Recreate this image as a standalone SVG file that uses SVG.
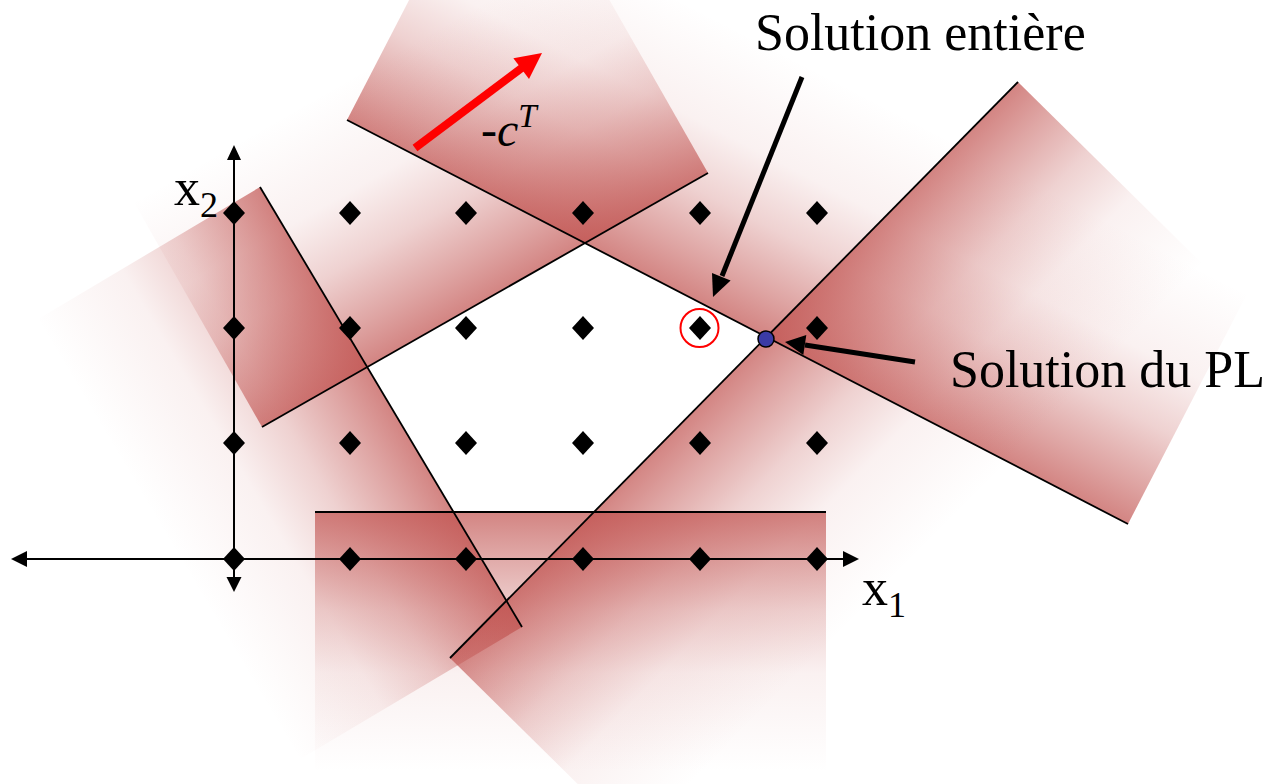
<svg xmlns="http://www.w3.org/2000/svg" xmlns:xlink="http://www.w3.org/1999/xlink" width="1278" height="784" viewBox="0 0 1278 784">
<style>
.cl{stroke:#000;stroke-width:1.8;fill:none}
.ax{stroke:#000;stroke-width:2;fill:none}
.ah{fill:#000}
.lbl{font-family:"Liberation Serif","Times New Roman",serif;fill:#000}
.dm{fill:#000}
</style>
<defs>
<linearGradient id="fade">
<stop offset="0" stop-color="#c0504d" stop-opacity="0.7"/>
<stop offset="0.15" stop-color="#c0504d" stop-opacity="0.52"/>
<stop offset="0.38" stop-color="#c0504d" stop-opacity="0.26"/>
<stop offset="0.62" stop-color="#c0504d" stop-opacity="0.08"/>
<stop offset="1" stop-color="#c0504d" stop-opacity="0"/>
</linearGradient>
<linearGradient id="gA" href="#fade" xlink:href="#fade" gradientUnits="userSpaceOnUse" x1="347" y1="120" x2="466.5" y2="-110.9"/>
<linearGradient id="gB" href="#fade" xlink:href="#fade" gradientUnits="userSpaceOnUse" x1="262" y1="427" x2="133.3" y2="201.1"/>
<linearGradient id="gC" href="#fade" xlink:href="#fade" gradientUnits="userSpaceOnUse" x1="450" y1="658" x2="635.1" y2="840.6"/>
<linearGradient id="gD" href="#fade" xlink:href="#fade" gradientUnits="userSpaceOnUse" x1="260" y1="187" x2="36.6" y2="320"/>
<linearGradient id="gE" href="#fade" xlink:href="#fade" gradientUnits="userSpaceOnUse" x1="0" y1="512" x2="0" y2="772"/>
</defs>
<rect width="1278" height="784" fill="#fff"/>
<g id="shading">
<polygon fill="url(#gA)" points="347,120 1128,524 1247.5,293.1 466.5,-110.9"/>
<polygon fill="url(#gB)" points="262,427 708,173 579.3,-52.9 133.3,201.1"/>
<polygon fill="url(#gC)" points="450,658 1018,82 1203.1,264.6 635.1,840.6"/>
<polygon fill="url(#gD)" points="260,187 522,627 298.6,760 36.6,320"/>
<rect fill="url(#gE)" x="315" y="512" width="511" height="260"/>
</g>
<g id="axes">
<line class="ax" x1="26" y1="559" x2="845" y2="559"/>
<polygon class="ah" points="11,559 27,551 27,567"/>
<polygon class="ah" points="859,559 843,551 843,567"/>
<line class="ax" x1="234" y1="159" x2="234" y2="578"/>
<polygon class="ah" points="234,145 227,160 241,160"/>
<polygon class="ah" points="234,592 226.5,577 241.5,577"/>
</g>
<g id="connectors">
<line class="cl" x1="347" y1="120" x2="1128" y2="524"/>
<line class="cl" x1="262" y1="427" x2="708" y2="173" stroke-width="1.5"/>
<line class="cl" x1="450" y1="658" x2="1018" y2="82" stroke-width="1.5"/>
<line class="cl" x1="260" y1="187" x2="522" y2="627" stroke-width="1.6"/>
<line class="cl" x1="315" y1="512" x2="826" y2="512"/>
</g>
<g id="lattice">
<polygon class="dm" points="234,201 245,213 234,225 223,213"/>
<polygon class="dm" points="350,201 361,213 350,225 339,213"/>
<polygon class="dm" points="466,201 477,213 466,225 455,213"/>
<polygon class="dm" points="583,201 594,213 583,225 572,213"/>
<polygon class="dm" points="700,201 711,213 700,225 689,213"/>
<polygon class="dm" points="817,201 828,213 817,225 806,213"/>
<polygon class="dm" points="234,316 245,328 234,340 223,328"/>
<polygon class="dm" points="350,316 361,328 350,340 339,328"/>
<polygon class="dm" points="466,316 477,328 466,340 455,328"/>
<polygon class="dm" points="583,316 594,328 583,340 572,328"/>
<polygon class="dm" points="700,316 711,328 700,340 689,328"/>
<polygon class="dm" points="817,316 828,328 817,340 806,328"/>
<polygon class="dm" points="234,431 245,443 234,455 223,443"/>
<polygon class="dm" points="350,431 361,443 350,455 339,443"/>
<polygon class="dm" points="466,431 477,443 466,455 455,443"/>
<polygon class="dm" points="583,431 594,443 583,455 572,443"/>
<polygon class="dm" points="700,431 711,443 700,455 689,443"/>
<polygon class="dm" points="817,431 828,443 817,455 806,443"/>
<polygon class="dm" points="234,547 245,559 234,571 223,559"/>
<polygon class="dm" points="350,547 361,559 350,571 339,559"/>
<polygon class="dm" points="466,547 477,559 466,571 455,559"/>
<polygon class="dm" points="583,547 594,559 583,571 572,559"/>
<polygon class="dm" points="700,547 711,559 700,571 689,559"/>
<polygon class="dm" points="817,547 828,559 817,571 806,559"/>
</g>
<g id="integer-solution">
<circle cx="699.5" cy="328" r="19" fill="none" stroke="#f00" stroke-width="2"/>
</g>
<g id="lp-solution">
<circle cx="766" cy="339" r="8" fill="#3b3ba6" stroke="#000" stroke-width="1.5"/>
</g>
<g id="cost-vector">
<line x1="415" y1="148" x2="523" y2="67" stroke="#f00" stroke-width="8"/>
<polygon fill="#f00" points="542,53 529,79 513.4,58.2"/>
<text class="lbl" x="481" y="146" font-size="48" font-style="italic">-c<tspan font-size="33" dy="-19">T</tspan></text>
</g>
<g id="label-entiere">
<line x1="802" y1="77" x2="722" y2="276" stroke="#000" stroke-width="5"/>
<polygon class="ah" points="713,297 730.6,280.4 712,272.9"/>
<text class="lbl" x="755" y="50" font-size="52">Solution entière</text>
</g>
<g id="label-pl">
<line x1="915" y1="362" x2="805" y2="345" stroke="#000" stroke-width="5"/>
<polygon class="ah" points="785,342 806.3,335.1 803.3,354.9"/>
<text class="lbl" x="950" y="387" font-size="52">Solution du PL</text>
</g>
<g id="axis-labels">
<text class="lbl" x="862" y="605" font-size="52">x<tspan font-size="36" dy="12">1</tspan></text>
<text class="lbl" x="174" y="205" font-size="52">x<tspan font-size="36" dy="12">2</tspan></text>
</g>
</svg>
